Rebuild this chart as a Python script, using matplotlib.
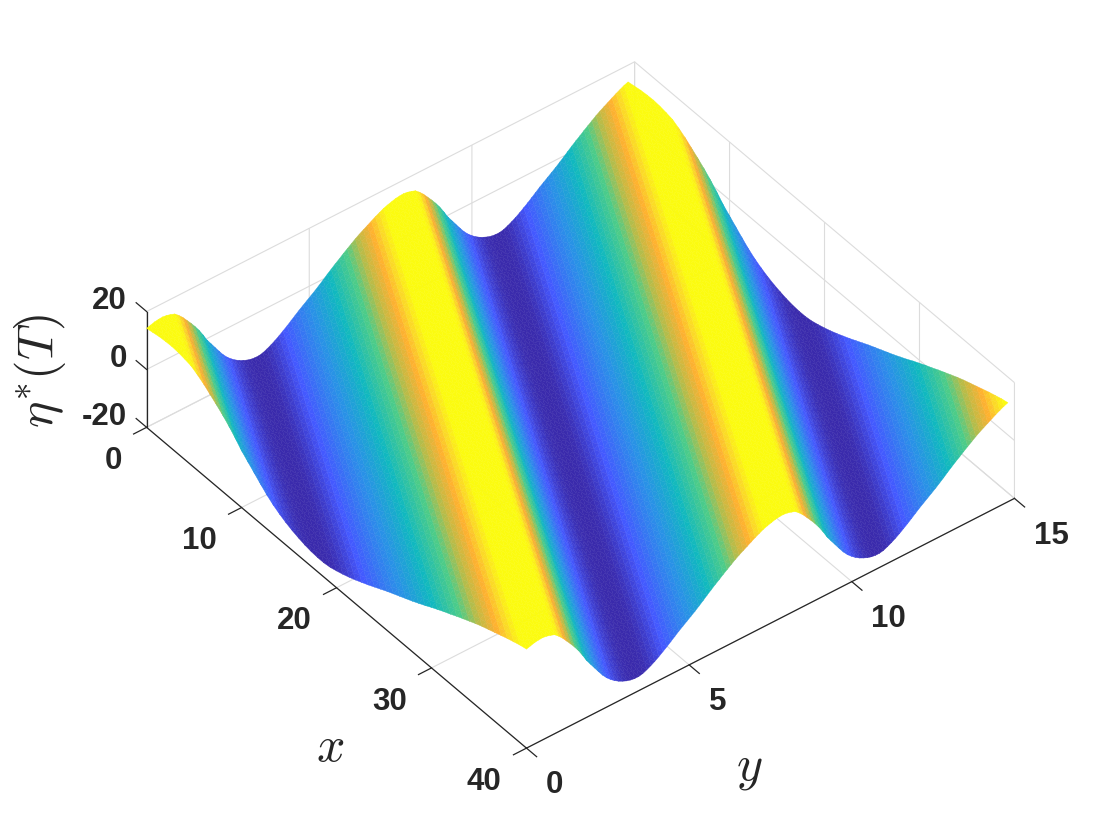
# surface of eta*(T) over (x,y), crests run diagonally across the domain
import numpy as np
from matplotlib import pyplot as plt
from matplotlib.colors import LinearSegmentedColormap
from matplotlib.tri import Triangulation
from mpl_toolkits.mplot3d import proj3d

plt.rcParams['font.family'] = ['Liberation Sans', 'DejaVu Sans']
plt.rcParams['mathtext.fontset'] = 'cm'
plt.rcParams['grid.color'] = '#dcdcdc'
plt.rcParams['grid.linewidth'] = 0.8

# surface heights read off the y=0 edge, one value per x step of 2/3
# (the ridges are parallel, one x step moves them by one y step)
edge_heights = [14.2, 14.6, 15.0, 15.2, 15.3, 15.1, 14.7, 14.2, 13.0, 11.6,
                9.9, 8.2, 6.4, 4.4, 2.1, -0.4, -2.4, -4.4, -6.4, -8.3,
                -9.9, -11.2, -12.3, -13.2, -13.9, -14.5, -14.9, -15.1, -15.1, -14.8,
                -14.2, -13.5, -12.7, -11.8, -10.8, -9.8, -8.7, -7.6, -6.5, -5.5,
                -4.5, -3.5, -2.5, -1.4, -0.3, 0.9, 2.0, 3.1, 4.1, 5.2,
                6.2, 7.2, 8.2, 9.1, 9.9, 10.7, 11.5, 12.3, 13.0, 13.7]

x_ticks = [0, 10, 20, 30, 40]
y_ticks = [0, 5, 10, 15]
z_ticks = [-20, 0, 20]
z_tick_labels = ['-20', '0', '20']

# colour stops looked up from the stripes
color_pos = [0.0, 0.04, 0.16, 0.36, 0.54, 0.69, 0.78, 0.86, 0.905, 0.95, 1.0]
color_hex = ['#3a28a8', '#3b2fb4', '#4458ff', '#2a90e8', '#10b8c0', '#4dcc88',
             '#b8bc48', '#ffb030', '#fbd828', '#fbfb10', '#fbfb10']

nx, ny = 61, 121
x_vals = np.linspace(0, 40, nx)
y_vals = np.linspace(0, 14.8, ny)
X, Y = np.meshgrid(x_vals, y_vals)
ix, iy = np.meshgrid(np.arange(nx), np.arange(ny))
Z = np.asarray(edge_heights)[(ix + iy) % len(edge_heights)]

# split every cell along its ridge direction so the stripes stay smooth
tris = []
for j in range(ny - 1):
  for i in range(nx - 1):
    a = j * nx + i
    b = a + 1
    c = a + nx
    d = c + 1
    tris.append([a, b, c])
    tris.append([b, d, c])
tri = Triangulation(X.ravel(), Y.ravel(), tris)

cmap = LinearSegmentedColormap.from_list('stripes', list(zip(color_pos, color_hex)), N=512)

# axes square is bigger than the box so nothing gets clipped, zoom keeps the scale
fig = plt.figure(figsize=(11.2, 8.4), dpi=100)
ax = fig.add_axes([5.4 / 1120, -140.1 / 840, 1120 / 1120, 1120 / 840], projection='3d', proj_type='ortho')
ax.view_init(elev=41.1, azim=-37.9)
ax.set_box_aspect((1, 1, 0.2485), zoom=862 / 1120)

surf = ax.plot_trisurf(tri, Z.ravel(), cmap=cmap, vmin=-15.5, vmax=15.5, linewidth=0.3, antialiased=True)
surf.set_edgecolor('face')

# tick marks
for v in x_ticks:
  ax.plot([v, v], [0, -0.4], [-20, -20], color='#262626', lw=0.9)
for v in y_ticks:
  ax.plot([40, 41.07], [v, v], [-20, -20], color='#262626', lw=0.9)
for v in z_ticks:
  ax.plot([0, -1.1], [0, 0], [v, v], color='#262626', lw=0.9)

ax.set_xlim(0, 40)
ax.set_ylim(0, 15)
ax.set_zlim(-20, 20)
ax.set_xticks(x_ticks)
ax.set_yticks(y_ticks)
ax.set_zticks(z_ticks)
ax.set_zticklabels([])

for axis in [ax.xaxis, ax.yaxis, ax.zaxis]:
  axis.set_pane_color((1, 1, 1, 1))
  axis.pane.set_edgecolor('none')
  axis.line.set_color('#262626')
  axis.line.set_linewidth(0.9)
  axis._axinfo['tick']['inward_factor'] = 0.0
  axis._axinfo['tick']['outward_factor'] = 0.0

ax.zaxis.set_ticks_position('lower')
ax.tick_params(axis='both', colors='#262626', labelsize=22.5, pad=13.4)
for lab in ax.get_xticklabels() + ax.get_yticklabels():
  lab.set_fontweight('bold')
for lab in ax.get_xticklabels():
  lab.set_ha('right')
for lab in ax.get_yticklabels():
  lab.set_ha('left')

# z tick labels sit just above the tick ends
M = ax.get_proj()
for v, s in zip(z_ticks, z_tick_labels):
  px, py, _ = proj3d.proj_transform(0, 0, v, M)
  ax.annotate(s, xy=(px, py), xytext=(-14.2, 7.6), textcoords='offset points', ha='right', va='center',
              fontsize=22.5, fontweight='bold', color='#262626', annotation_clip=False)

fig.text(330 / 1120, 1 - 748 / 840, r'$x$', fontsize=36, ha='center', va='center', color='#262626')
fig.text(749 / 1120, 1 - 769 / 840, r'$y$', fontsize=36, ha='center', va='center', color='#262626')
fig.text(40.5 / 1120, 1 - 371 / 840, r'$\eta^{*}(T)$', fontsize=36, rotation=90, ha='center', va='center', color='#262626')

plt.savefig('out.png', dpi=100)
